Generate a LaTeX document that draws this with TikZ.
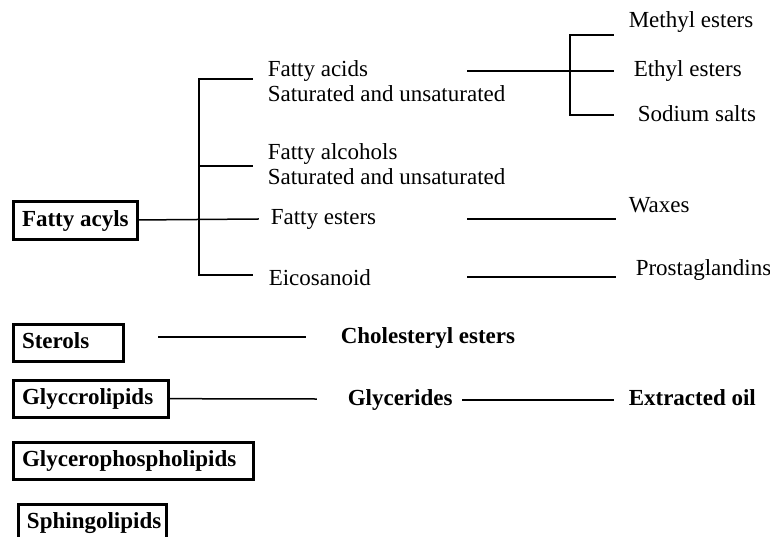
\documentclass[tikz,border=0pt]{standalone}
\usepackage{fontspec}
\setmainfont{Liberation Serif}
\usepackage{tikz}

\newcommand{\grptext}[2]{\makebox[#1][l]{#2}}

\tikzset{
lbl/.style={anchor=base west, inner sep=0pt, font=\fontsize{23}{25}\selectfont},
lbltwo/.style={anchor=north west, inner sep=0pt, align=left, font=\fontsize{23}{25}\selectfont},
blbl/.style={lbl, font=\fontsize{23}{25}\selectfont\bfseries},
grp/.style={draw, line width=3pt, anchor=north west, inner xsep=9pt, inner ysep=8pt,
  text height=16pt, text depth=5pt, font=\fontsize{23}{25}\selectfont\bfseries},
}

\begin{document}
\begin{tikzpicture}[x=1pt,y=-1pt,line width=1.5pt,line cap=rect]
\useasboundingbox (0,0) rectangle (770,537);
\draw
(11.5,200.5) node[grp](acyl){\grptext{106pt}{Fatty acyls}}
(11.5,322.5) node[grp](sterol){\grptext{92pt}{Sterols}}
(11.5,378.5) node[grp](glyc){\grptext{137pt}{Glyccrolipids}}
(11.5,440.5) node[grp](gphos){\grptext{222pt}{Glycerophospholipids}}
(16.5,502.5) node[grp](sphingo){\grptext{130pt}{Sphingolipids}}
(267,59.3) node[lbltwo](facid){Fatty acids\\Saturated and unsaturated}
(267,142.3) node[lbltwo](falc){Fatty alcohols\\Saturated and unsaturated}
(270,225) node[lbl](fest){Fatty esters}
(268,285) node[lbl](eico){Eicosanoid}
(628,28) node[lbl](methyl){Methyl esters}
(633,77) node[lbl](ethyl){Ethyl esters}
(637,122) node[lbl](sodium){Sodium salts}
(628,213) node[lbl](wax){Waxes}
(635,275) node[lbl](prost){Prostaglandins}
(340,343) node[blbl](chol){Cholesteryl esters}
(347,405) node[blbl](glyde){Glycerides}
(628,405) node[blbl](oil){Extracted oil}
;
% junctions and free line ends
\draw
(199,79) coordinate(ttop) (199,166) coordinate(tmid) (199,275) coordinate(tbot)
(252,79) coordinate(fa1) (252,166) coordinate(fl1) (258,219) coordinate(fe1) (252,275) coordinate(ei1)
(468,71) coordinate(ac0) (570,71) coordinate(sj) (570,35) coordinate(stop) (570,115) coordinate(sbot)
(613,35) coordinate(me1) (613,71) coordinate(et1) (613,115) coordinate(so1)
(468,219) coordinate(wx0) (615,219) coordinate(wx1)
(468,277) coordinate(pg0) (615,277) coordinate(pg1)
(159,337) coordinate(st0) (305,337) coordinate(st1)
(316,399) coordinate(gl1)
(463,400) coordinate(gd0) (613,400) coordinate(gd1)
;
\foreach \x/\y in {ttop/tbot, ttop/fa1, tmid/fl1, acyl/fe1, tbot/ei1,
ac0/sj, stop/sbot, stop/me1, sj/et1, sbot/so1, wx0/wx1, pg0/pg1,
st0/st1, glyc/gl1, gd0/gd1}{
\draw(\x)--(\y);
}
\end{tikzpicture}
\end{document}
